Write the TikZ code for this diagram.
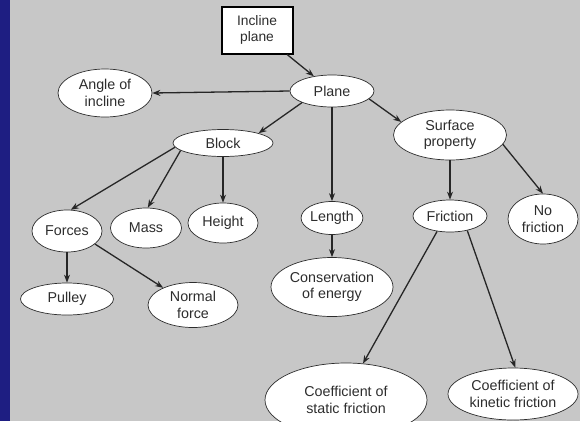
\documentclass[tikz,border=0pt]{standalone}
\usepackage{fontspec}
\setmainfont{Liberation Sans}
\usetikzlibrary{shapes.geometric,arrows.meta}
\definecolor{SlideBlue}{RGB}{30,30,130}
\definecolor{SlideGray}{RGB}{199,199,199}
\definecolor{InkGray}{RGB}{45,45,45}

\begin{document}
\begin{tikzpicture}[
    x=1pt, y=-1pt,
    concept/.style={
      ellipse,
      draw=InkGray,
      fill=white,
      line width=0.7pt,
      inner sep=0pt,
      align=center,
      text=InkGray,
      font=\fontsize{14.3}{16.5}\selectfont
    },
    root/.style={
      rectangle,
      draw=black,
      fill=white,
      line width=2pt,
      minimum width=71pt,
      minimum height=47pt,
      inner sep=0pt,
      align=center,
      text=InkGray,
      font=\fontsize{13.8}{16.5}\selectfont
    },
    arrow/.style={
      -{Stealth[length=8pt, width=6pt]},
      line width=1.3pt,
      draw=black!85
    }
  ]
    % slide background
    \fill[SlideGray] (0,0) rectangle (580,421);
    \fill[SlideBlue] (0,0) rectangle (10,421);
    \useasboundingbox (0,0) rectangle (580,421);
    \clip (0,0) rectangle (580,421);

    \node[root] (incline) at (257,30) {Incline\\plane};
    \node[concept, minimum width=84pt, minimum height=32pt] (plane) at (332,91) {Plane};
    \node[concept, minimum width=94pt, minimum height=48pt] (angle) at (105,93) {Angle of\\incline};
    \node[concept, minimum width=100pt, minimum height=27pt] (block) at (223,143) {Block};
    \node[concept, minimum width=113pt, minimum height=50pt] (surface) at (450,135) {Surface\\property};

    \node[concept, minimum width=70pt, minimum height=42pt] (forces) at (67,231) {Forces};
    \node[concept, minimum width=71pt, minimum height=40pt] (mass) at (146,228) {Mass};
    \node[concept, minimum width=70pt, minimum height=40pt] (height) at (223,223) {Height};
    \node[concept, minimum width=60pt, minimum height=33pt] (length) at (332,218) {Length};
    \node[concept, minimum width=74pt, minimum height=32pt] (friction) at (450,216) {Friction};
    \node[concept, minimum width=70pt, minimum height=50pt] (nofric) at (543,219) {No\\friction};

    \node[concept, minimum width=93pt, minimum height=32pt] (pulley) at (67,299) {Pulley};
    \node[concept, minimum width=90pt, minimum height=45pt] (normal) at (193,305) {Normal\\force};
    \node[concept, minimum width=122pt, minimum height=59pt] (energy) at (332,287) {Conservation\\of energy};

    \node[concept, minimum width=162pt, minimum height=74pt] (static) at (346,400) {Coefficient of\\static friction};
    \node[concept, minimum width=130pt, minimum height=52pt] (kinetic) at (513,394) {Coefficient of\\kinetic friction};

    \draw[arrow] (incline) -- (plane);
    \draw[arrow] (plane.west) -- (angle.east);
    \draw[arrow] (plane.south west) -- (block.north east);
    \draw[arrow] (plane) -- (length);
    \draw[arrow] (plane.-12) -- (surface.165);

    \draw[arrow] (block.185) -- (forces.80);
    \draw[arrow] (block.190) -- (mass.85);
    \draw[arrow] (block) -- (height);

    \draw[arrow] (surface) -- (friction);
    \draw[arrow] (surface.-10) -- (nofric.north);

    \draw[arrow] (forces) -- (pulley);
    \draw[arrow] (forces.-25) -- (normal.150);
    \draw[arrow] (length) -- (energy);

    \draw[arrow] (friction.230) -- (static.65);
    \draw[arrow] (friction.-40) -- (kinetic.85);

\end{tikzpicture}
\end{document}
